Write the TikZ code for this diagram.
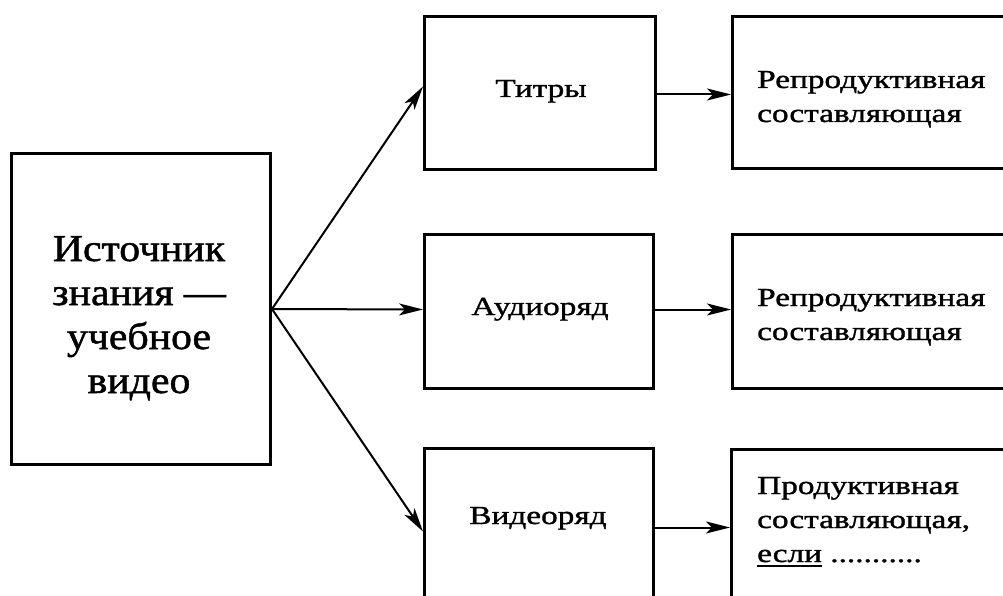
\documentclass[tikz,border=0pt]{standalone}
\usepackage{fontspec}
\setmainfont{Liberation Serif}[FakeStretch=1.28,FakeBold=1.3]
\newfontfamily\srcfont{Liberation Serif}[FakeStretch=1.1,FakeBold=1.3]
\usetikzlibrary{arrows.meta}
% thick underline for a single word
\newcommand\thickunder[1]{{\setbox0\hbox{#1}\rlap{\rule[-5pt]{\wd0}{2.4pt}}\box0}}
\begin{document}
\begin{tikzpicture}[x=1pt,y=-1pt,
  box/.style={draw,line width=3pt,inner sep=0pt,anchor=north west},
  link/.style={line width=2pt,-{Stealth[length=24pt,width=12pt,inset=6pt]}},
  midtext/.style={font=\fontsize{26}{34}\selectfont,inner sep=0pt},
  sidetext/.style={font=\fontsize{26}{34}\selectfont,align=left,anchor=base west,inner sep=0pt}]
\useasboundingbox (0,0) rectangle (1003,596);

% source
\node[box,minimum width=259pt,minimum height=311pt] (src) at (10,152) {};
\node[font=\srcfont\fontsize{38}{44}\selectfont,align=center,anchor=base,inner sep=0pt] (srct) at (139,393)
  {Источник\\знания —\\учебное\\видео};

% middle column
\node[box,minimum width=231pt,minimum height=153pt] (t) at (423,15) {};
\node[box,minimum width=229pt,minimum height=154pt] (a) at (423,233) {};
\node[box,minimum width=229pt,minimum height=158pt] (v) at (423,447) {};
\node[midtext,anchor=base] (tt) at (541,97) {Титры};
\node[midtext,anchor=base] (at) at (540,315) {Аудиоряд};
\node[midtext,anchor=base] (vt) at (538,524) {Видеоряд};

% right column
\node[box,minimum width=300pt,minimum height=152pt] (r1) at (731,15) {};
\node[box,minimum width=300pt,minimum height=154pt] (r2) at (731,233) {};
\node[box,minimum width=300pt,minimum height=170pt] (r3) at (730,448) {};
\node[sidetext] (r1t) at (757,122) {Репродуктивная\\составляющая};
\node[sidetext] (r2t) at (757,340) {Репродуктивная\\составляющая};
\node[sidetext] (r3t) at (757,562) {Продуктивная\\составляющая,\\\thickunder{если} ...........};

% connectors
\draw[link] (src.east) -- ([yshift=6.5pt]t.west);
\draw[link] (src.east) -- ([yshift=2pt]a.west);
\draw[link] (src.east) -- ([yshift=-4pt]v.west);
\draw[link] ([yshift=-1.5pt]t.east) -- ([yshift=-1.5pt]t.east -| r1.west);
\draw[link] ([yshift=2pt]a.east) -- ([yshift=2pt]a.east -| r2.west);
\draw[link] (v.east) -- (v.east -| r3.west);
\end{tikzpicture}
\end{document}
